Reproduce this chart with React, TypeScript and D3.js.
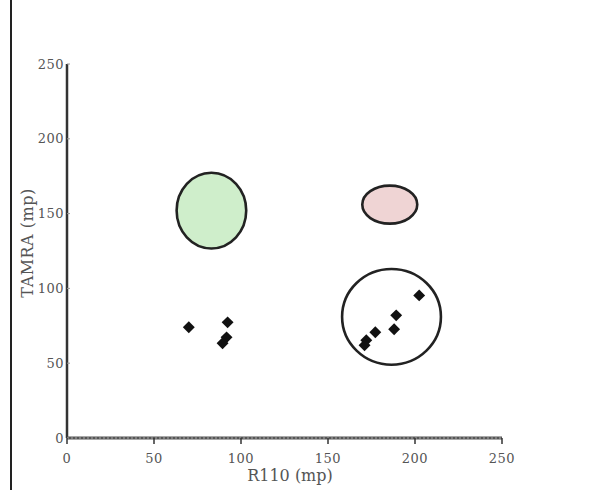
import React from "react";
import * as d3 from "d3";

const xTicks = [0, 50, 100, 150, 200, 250];
const yTicks = [0, 50, 100, 150, 200, 250];

// ellipses: centre and radii in data units
const clusterNames = ["green", "pink", "open"];
const clusterCx = [83, 185.5, 186.5];
const clusterCy = [152, 156, 81];
const clusterRx = [20, 15.8, 28.4];
const clusterRy = [25.3, 12.7, 32];
const clusterFill = ["#cfeecb", "#efd4d4", "none"];

const pointX = [70, 92.3, 91.7, 89.4, 202.4, 189.2, 188, 177.2, 172, 171];
const pointY = [74, 77.3, 67.3, 63.3, 95.3, 82, 72.7, 70.7, 65.3, 62];

const W = 598;
const H = 490;
const margin = { top: 64, right: 96, bottom: 52, left: 67 };

export default function App() {
  const x = d3.scaleLinear().domain([0, 250]).range([margin.left, W - margin.right]);
  const y = d3.scaleLinear().domain([0, 250]).range([H - margin.bottom, margin.top]);
  const sx = x(1) - x(0);
  const sy = y(0) - y(1);
  const diamond = d3.symbol(d3.symbolDiamond2, 90)() as string;
  const font = "'DejaVu Serif', 'Liberation Serif', serif";

  return (
    <svg width={W} height={H} style={{ position: "absolute", left: 0, top: 0, background: "#fff" }}>
      <line x1={11} x2={11} y1={0} y2={H} stroke="#222" strokeWidth={2} />

      {clusterNames.map((n, i) => (
        <ellipse
          key={n}
          cx={x(clusterCx[i])}
          cy={y(clusterCy[i])}
          rx={clusterRx[i] * sx}
          ry={clusterRy[i] * sy}
          fill={clusterFill[i]}
          stroke="#222"
          strokeWidth={2.6}
        />
      ))}

      {pointX.map((px, i) => (
        <path key={i} d={diamond} transform={`translate(${x(px)},${y(pointY[i])})`} fill="#111" />
      ))}

      {/* y axis */}
      <line x1={x(0)} x2={x(0)} y1={y(250)} y2={y(0)} stroke="#333" strokeWidth={2.5} />
      {yTicks.map((t) => (
        <g key={t}>
          <line x1={x(0)} x2={x(0) + 3} y1={y(t)} y2={y(t)} stroke="#999" strokeWidth={1} />
          <text x={x(0) - 3} y={y(t)} dy="0.35em" textAnchor="end" fontSize={13} letterSpacing={0.5} fill="#555" fontFamily={font}>
            {t}
          </text>
        </g>
      ))}

      {/* x axis */}
      <line x1={x(0)} x2={x(250)} y1={y(0)} y2={y(0)} stroke="#555" strokeWidth={3} />
      <line x1={x(0)} x2={x(250)} y1={y(0)} y2={y(0)} stroke="#aaa" strokeWidth={1} strokeDasharray="2,2" />
      {xTicks.map((t) => (
        <g key={t}>
          <line x1={x(t)} x2={x(t)} y1={y(0)} y2={y(0) + 6} stroke="#333" strokeWidth={1.5} />
          <text x={x(t)} y={y(0) + 25} textAnchor="middle" fontSize={13} letterSpacing={0.5} fill="#555" fontFamily={font}>
            {t}
          </text>
        </g>
      ))}

      <text x={290} y={481} textAnchor="middle" fontSize={16} fill="#555" fontFamily={font}>
        R110 (mp)
      </text>
      <text
        transform={`translate(33,${243}) rotate(-90)`}
        textAnchor="middle"
        fontSize={16}
        letterSpacing={0.5}
        fill="#555"
        fontFamily={font}
      >
        TAMRA (mp)
      </text>
    </svg>
  );
}
